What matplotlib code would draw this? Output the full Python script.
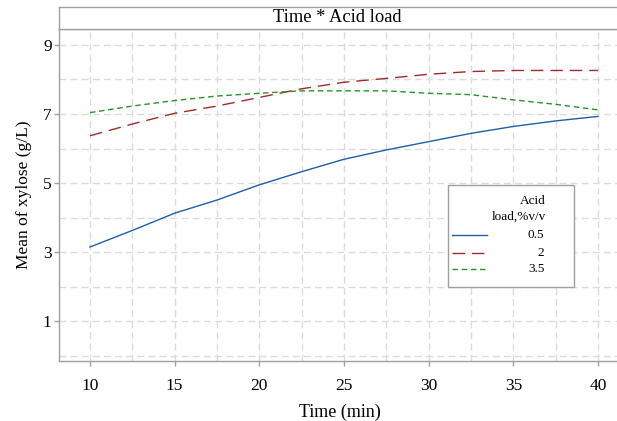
import matplotlib
matplotlib.use("Agg")
import matplotlib.pyplot as plt
from matplotlib.patches import Rectangle

plt.rcParams['font.family'] = ['Liberation Serif', 'DejaVu Serif']

# Data
time_min = [10, 12.5, 15, 17.5, 20, 22.5, 25, 27.5, 30, 32.5, 35, 37.5, 40]
acid_loads = ["0.5", "2", "3.5"]
xylose_05 = [3.15, 3.63, 4.13, 4.51, 4.95, 5.33, 5.69, 5.96, 6.20, 6.44, 6.64, 6.80, 6.93]
xylose_2 = [6.37, 6.71, 7.02, 7.23, 7.48, 7.73, 7.92, 8.03, 8.15, 8.23, 8.26, 8.26, 8.26]
xylose_35 = [7.04, 7.23, 7.39, 7.52, 7.60, 7.67, 7.67, 7.67, 7.60, 7.56, 7.41, 7.28, 7.12]
x_ticks = [10, 15, 20, 25, 30, 35, 40]
y_ticks = [1, 3, 5, 7, 9]

series = [xylose_05, xylose_2, xylose_35]
colors = ['#1f5fa8', '#a32a2a', '#2a922a']
styles = ['-', (0, (9, 5)), (0, (4, 2.6))]

frame = '#a0a0a0'
grid = '#dcdcdc'

fig = plt.figure(figsize=(6.17, 4.21), dpi=100)
ax = fig.add_axes([0.0961, 0.1432, 0.9088, 0.7879])

# grid
for gx in [10 + 2.5 * i for i in range(13)]:
    ax.axvline(gx, color=grid, lw=1.0, ls=(0, (5, 3)), zorder=0)
for gy in range(0, 10):
    ax.axhline(gy, color=grid, lw=1.0, ls=(0, (5, 3)), zorder=0)

for vals, c, st in zip(series, colors, styles):
    ax.plot(time_min, vals, color=c, ls=st, lw=1.0, zorder=2)

ax.set_xlim(8.19, 41.30)
ax.set_ylim(-0.14, 9.46)
ax.set_xticks(x_ticks)
ax.set_yticks(y_ticks)
ax.tick_params(axis='both', colors=frame, labelcolor='black', labelsize=12.5,
               length=3.5, width=1.0)
ax.tick_params(axis='x', pad=9)
ax.tick_params(axis='y', pad=2)
for name, sp in ax.spines.items():
    sp.set_color(frame)
    sp.set_linewidth(1.0)
ax.spines['right'].set_visible(False)

ax.set_xlabel("Time (min)", fontsize=13, labelpad=7)
ax.set_ylabel("Mean of xylose (g/L)", fontsize=12.5, labelpad=8)

# title strip
strip = fig.add_axes([0.0961, 0.9311, 0.9088, 0.0523])
strip.set_xticks([])
strip.set_yticks([])
for sp in strip.spines.values():
    sp.set_color(frame)
    sp.set_linewidth(1.0)
strip.text(0.4965, 0.5, "Time * Acid load", ha='center', va='center',
           fontsize=13.3, transform=strip.transAxes)

# legend box
ax.add_patch(Rectangle((0.693, 0.222), 0.2247, 0.3075, transform=ax.transAxes,
                       facecolor='white', edgecolor=frame, lw=1.0, zorder=3))
ax.text(0.868, 0.4824, "Acid", transform=ax.transAxes, ha='right', va='center',
        fontsize=9.5, zorder=4)
ax.text(0.868, 0.4341, "load,%v/v", transform=ax.transAxes, ha='right', va='center',
        fontsize=9.5, zorder=4)
for lab, c, st, yy in zip(acid_loads, colors, styles, [0.3790, 0.3247, 0.2765]):
    ax.plot([0.7004, 0.7628], [yy, yy], transform=ax.transAxes, color=c, ls=st,
            lw=1.0, zorder=4)
    ax.text(0.865, yy, lab, transform=ax.transAxes, ha='right', va='center',
            fontsize=9.5, zorder=4)

fig.savefig("out.png", dpi=100)
